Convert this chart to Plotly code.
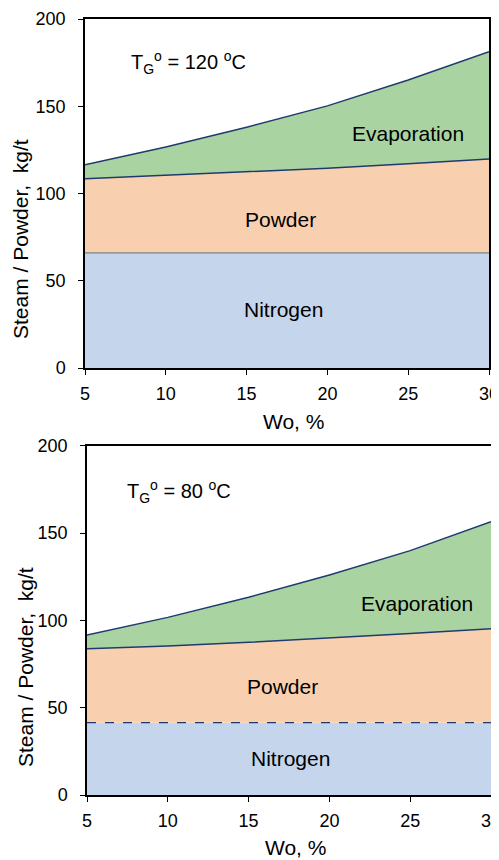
import plotly.graph_objects as go

# ---- data ----
wo = [5, 10, 15, 20, 25, 30]

# T_G = 120 C  (upper panel) - cumulative boundaries, kg/t
n2_120 = [66, 66, 66, 66, 66, 66]
powder_120 = [108.4, 110.3, 112.2, 114.5, 117.0, 119.8]
total_120 = [116.4, 126.7, 138.0, 150.2, 165.0, 181.3]

# T_G = 80 C  (lower panel)
n2_80 = [41.4, 41.4, 41.4, 41.4, 41.4, 41.4]
powder_80 = [83.8, 85.3, 87.4, 89.7, 92.4, 95.2]
total_80 = [91.6, 101.7, 113.2, 126.0, 139.9, 156.5]

region_labels = ["Nitrogen", "Powder", "Evaporation"]
x_ticks = [5, 10, 15, 20, 25, 30]
y_ticks = [0, 50, 100, 150, 200]

BLUE = "#C5D6EC"
PEACH = "#F8D0B0"
GREEN = "#A9D4A1"
NAVY = "#1F3A6E"
FONT = "Liberation Sans, Arial, sans-serif"

OFF = 8  # page body margin
W, H = 499 - OFF, 860 - OFF

fig = go.Figure()


def add_panel(xa, ya, n2, pw, tot, n2_line):
    fig.add_trace(go.Scatter(x=wo, y=n2, mode="lines", fill="tozeroy", fillcolor=BLUE,
                             line=n2_line, xaxis=xa, yaxis=ya, showlegend=False,
                             name=region_labels[0]))
    fig.add_trace(go.Scatter(x=wo, y=pw, mode="lines", fill="tonexty", fillcolor=PEACH,
                             line=dict(color=NAVY, width=1.5), xaxis=xa, yaxis=ya,
                             showlegend=False, name=region_labels[1]))
    fig.add_trace(go.Scatter(x=wo, y=tot, mode="lines", fill="tonexty", fillcolor=GREEN,
                             line=dict(color=NAVY, width=1.5), xaxis=xa, yaxis=ya,
                             showlegend=False, name=region_labels[2]))


add_panel("x", "y", n2_120, powder_120, total_120, dict(color="#7F7F7F", width=1.2))
add_panel("x2", "y2", n2_80, powder_80, total_80, dict(color=NAVY, width=1.2, dash="dash"))


def px_x(p):
    return (p - OFF) / W


def px_y(p):
    return 1 - (p - OFF) / H


xaxis_common = dict(range=[5, 30], tickvals=x_ticks, showline=True, linecolor="black",
                    linewidth=1.5, mirror=True, ticks="outside", ticklen=5, tickwidth=1.2,
                    tickcolor="black", showgrid=False, zeroline=False,
                    tickfont=dict(family=FONT, size=18, color="black"), automargin=False,
                    ticklabelstandoff=4, ticklabeloverflow="allow")
yaxis_common = dict(range=[0, 200], tickvals=y_ticks, showline=True, linecolor="black",
                    linewidth=1.5, mirror=True, ticks="outside", ticklen=5, tickwidth=1.2,
                    tickcolor="black", showgrid=False, zeroline=False,
                    tickfont=dict(family=FONT, size=18, color="black"), automargin=False,
                    ticklabelstandoff=9, ticklabeloverflow="allow")

fig.update_layout(
    width=W, height=H,
    margin=dict(l=0, r=0, t=0, b=0),
    paper_bgcolor="white", plot_bgcolor="white",
    font=dict(family=FONT, color="black"),
    xaxis=dict(xaxis_common, domain=[px_x(85), px_x(489)], anchor="y"),
    yaxis=dict(yaxis_common, domain=[px_y(368), px_y(19)], anchor="x"),
    xaxis2=dict(xaxis_common, domain=[px_x(87), px_x(491)], anchor="y2"),
    yaxis2=dict(yaxis_common, domain=[px_y(795), px_y(445.7)], anchor="x2"),
)

ann = []
lab = dict(showarrow=False, font=dict(family=FONT, size=21, color="black"))
# axis titles
ann.append(dict(lab, text="Steam / Powder,  kg/t", textangle=-90, xref="paper", yref="paper",
                x=px_x(21), y=px_y(239), xanchor="center", yanchor="middle"))
ann.append(dict(lab, text="Wo, %", xref="paper", yref="paper",
                x=px_x(293), y=px_y(421), xanchor="center", yanchor="middle"))
ann.append(dict(lab, text="Steam / Powder,  kg/t", textangle=-90, xref="paper", yref="paper",
                x=px_x(25), y=px_y(667), xanchor="center", yanchor="middle"))
ann.append(dict(lab, text="Wo, %", xref="paper", yref="paper",
                x=px_x(295), y=px_y(847), xanchor="center", yanchor="middle"))
# temperature labels
tfont = dict(family=FONT, size=20, color="black")
ann.append(dict(showarrow=False, font=tfont,
                text="T<sub>G</sub><sup>o</sup> = 120 <sup>o</sup>C", xref="x", yref="y",
                x=11.4, y=174.8))
ann.append(dict(showarrow=False, font=tfont,
                text="T<sub>G</sub><sup>o</sup> = 80 <sup>o</sup>C", xref="x2", yref="y2",
                x=10.7, y=173.7))
# region labels
ann.append(dict(lab, text=region_labels[2], xref="x", yref="y", x=25.0, y=134.2))
ann.append(dict(lab, text=region_labels[1], xref="x", yref="y", x=17.1, y=84.9))
ann.append(dict(lab, text=region_labels[0], xref="x", yref="y", x=17.3, y=33.4))
ann.append(dict(lab, text=region_labels[2], xref="x2", yref="y2", x=25.4, y=109.7))
ann.append(dict(lab, text=region_labels[1], xref="x2", yref="y2", x=17.1, y=62.0))
ann.append(dict(lab, text=region_labels[0], xref="x2", yref="y2", x=17.6, y=21.0))
fig.update_layout(annotations=ann)

fig.write_html("out.html")
